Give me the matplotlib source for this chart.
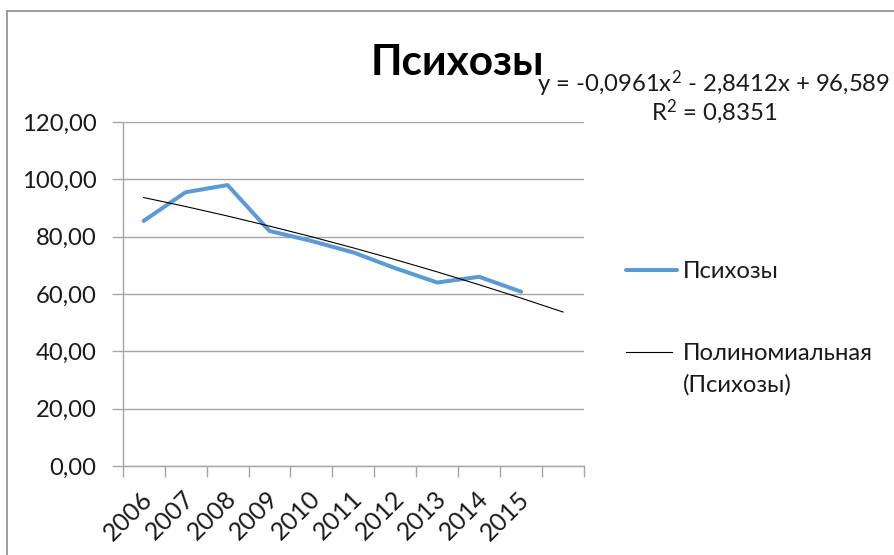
import matplotlib
matplotlib.use('Agg')
import matplotlib.pyplot as plt
import numpy as np
from matplotlib.lines import Line2D
from matplotlib.transforms import ScaledTranslation

plt.rcParams['font.family'] = ['Lato', 'DejaVu Sans']
plt.rcParams['mathtext.fontset'] = 'custom'
plt.rcParams['mathtext.rm'] = 'Lato'
plt.rcParams['mathtext.it'] = 'Lato'
plt.rcParams['mathtext.default'] = 'regular'

# ---- data ----
years = ['2006', '2007', '2008', '2009', '2010', '2011', '2012', '2013', '2014', '2015']
values = [85.5, 95.5, 98.0, 82.0, 78.5, 74.5, 69.0, 64.0, 66.0, 60.8]
trend_coeffs = [-0.0961, -2.8412, 96.589]   # polynomial trend shown on chart
forecast_periods = 1
y_ticks = [0, 20, 40, 60, 80, 100, 120]
y_tick_labels = ['0,00', '20,00', '40,00', '60,00', '80,00', '100,00', '120,00']
title = 'Психозы'
series_name = 'Психозы'
trend_name = ['Полиномиальная', '(Психозы)']
equation_text = 'y = -0,0961x$^2$ - 2,8412x + 96,589'
r2_text = 'R$^2$ = 0,8351'

W, H = 895, 555
fig = plt.figure(figsize=(W / 100, H / 100), dpi=100)
fig.patch.set_facecolor('white')

def fx(px):
    return px / W

def fy(py):
    return 1 - py / H

grid_c = '#a6a6a6'
txt_c = '#1a1a1a'
fs = 17.2

ax = fig.add_axes([fx(122.7), fy(466), fx(584) - fx(122.7), fy(122) - fy(466)])
x = np.arange(1, len(years) + 1)
xt = np.arange(1, len(years) + 1 + forecast_periods)
ax.plot(x, values, color='#5B9BD5', lw=2.9, solid_capstyle='round',
        solid_joinstyle='round', zorder=3)
ax.plot(xt, np.polyval(trend_coeffs, xt), color='black', lw=0.8, zorder=4)

ax.set_xlim(0.5, len(xt) + 0.5)
ax.set_ylim(0, 120)
for s in ['top', 'right']:
    ax.spines[s].set_visible(False)
for s in ['left', 'bottom']:
    ax.spines[s].set_color(grid_c)
    ax.spines[s].set_linewidth(1.0)

ax.set_yticks(y_ticks)
ax.set_yticklabels(y_tick_labels, fontsize=fs, color=txt_c)
ax.yaxis.grid(True, color=grid_c, lw=1.0)
ax.set_axisbelow(True)
ax.tick_params(axis='y', length=8, width=1.0, color=grid_c, pad=11.0)

ax.set_xticks(x)
ax.set_xticklabels(years, fontsize=18, color=txt_c, rotation=45,
                   ha='right', va='center', rotation_mode='anchor')
ax.set_xticks(np.arange(0.5, len(xt) + 1), minor=True)
ax.tick_params(axis='x', which='major', length=0, pad=21)
ax.tick_params(axis='x', which='minor', length=8, width=1.0, color=grid_c)
off = ScaledTranslation(5 / 100, 0, fig.dpi_scale_trans)
for lab in ax.get_xticklabels():
    lab.set_transform(lab.get_transform() + off)

# title
fig.text(fx(457), fy(75), title, ha='center', va='baseline', fontsize=30.5,
         fontweight='bold', color='black')

# trendline equation
fig.text(fx(714), fy(92), equation_text, ha='center', va='baseline', fontsize=fs, color=txt_c)
fig.text(fx(714), fy(120), r2_text, ha='center', va='baseline', fontsize=fs, color=txt_c)

# legend
fig.add_artist(Line2D([fx(626), fx(677)], [fy(270), fy(270)], color='#5B9BD5', lw=2.9,
                      solid_capstyle='round'))
fig.text(fx(683), fy(278), series_name, ha='left', va='baseline', fontsize=fs, color=txt_c)
fig.add_artist(Line2D([fx(626), fx(672)], [fy(352), fy(352)], color='black', lw=0.8))
fig.text(fx(683), fy(360), trend_name[0], ha='left', va='baseline', fontsize=fs, color=txt_c)
fig.text(fx(683), fy(392), trend_name[1], ha='left', va='baseline', fontsize=fs, color=txt_c)

# chart frame
fig.add_artist(Line2D([fx(7.5), 1], [fy(10.5), fy(10.5)], color='#8c8c8c', lw=1.2))
fig.add_artist(Line2D([fx(7.5), fx(7.5)], [fy(10.5), 0], color='#8c8c8c', lw=1.2))

fig.savefig('out.png', dpi=100, facecolor='white')
